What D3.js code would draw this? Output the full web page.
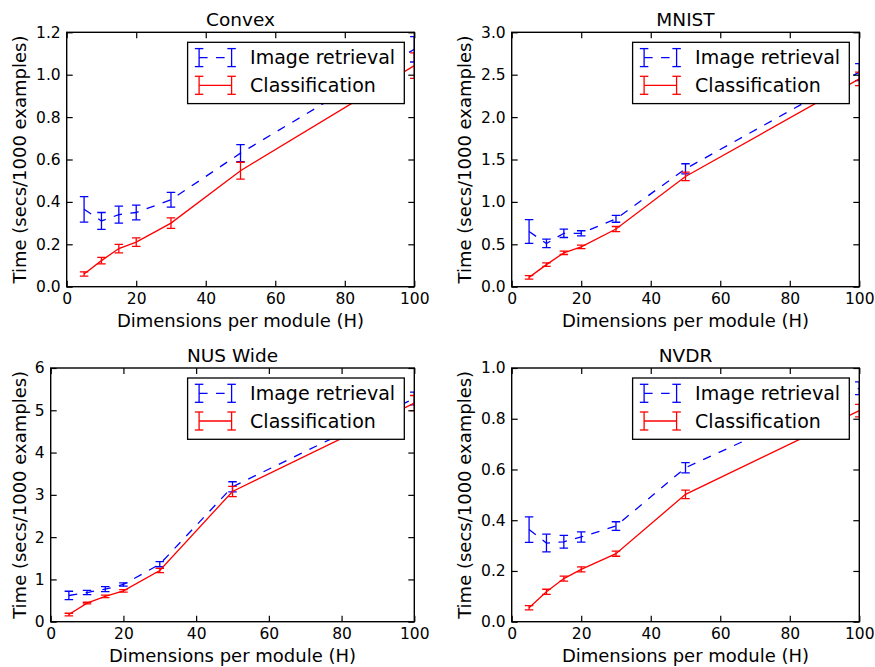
<!DOCTYPE html>
<html lang="en">
<head>
    <meta charset="UTF-8">
    <title>Time per module size</title>
    <script src="https://d3js.org/d3.v7.min.js"></script>
    <style>
        body {
            margin: 0;
            background: #ffffff;
            font-family: "DejaVu Sans", sans-serif;
        }
        .tick text { font-size: 15.5px; fill: #000; font-family: "DejaVu Sans", sans-serif; }
        .tick line { stroke: #000; stroke-width: 1.2; }
        .domain { display: none; }
        .title { font-size: 18.5px; fill: #000; }
        .label { font-size: 18px; fill: #000; }
        .legend-text { font-size: 19px; fill: #000; }
    </style>
</head>
<body>
    <div id="chart"></div>
    <script>
        // x values (dimensions per module)
        const dims = [5, 10, 15, 20, 30, 50, 100];

        // panel titles and y axes
        const titles = ["Convex", "MNIST", "NUS Wide", "NVDR"];
        const yMax = [1.2, 3.0, 6, 1.0];
        const yStep = [0.2, 0.5, 1, 0.2];
        const yFormat = [".1f", ".1f", "d", ".1f"];

        // Image retrieval (blue, dashed)
        const convexRet = [0.365, 0.31, 0.34, 0.35, 0.41, 0.63, 1.12];
        const convexRetErr = [0.06, 0.04, 0.04, 0.035, 0.035, 0.04, 0.06];
        const mnistRet = [0.65, 0.51, 0.63, 0.63, 0.80, 1.39, 2.53];
        const mnistRetErr = [0.14, 0.05, 0.05, 0.03, 0.04, 0.06, 0.1];
        const nusRet = [0.62, 0.69, 0.77, 0.88, 1.36, 3.19, 5.28];
        const nusRetErr = [0.1, 0.05, 0.06, 0.04, 0.06, 0.12, 0.15];
        const nvdrRet = [0.363, 0.31, 0.315, 0.334, 0.377, 0.607, 0.92];
        const nvdrRetErr = [0.05, 0.035, 0.025, 0.02, 0.017, 0.02, 0.025];

        // Classification (red, solid)
        const convexCls = [0.06, 0.123, 0.18, 0.21, 0.30, 0.547, 1.043];
        const convexClsErr = [0.01, 0.015, 0.02, 0.02, 0.025, 0.04, 0.06];
        const mnistCls = [0.11, 0.26, 0.40, 0.47, 0.68, 1.30, 2.45];
        const mnistClsErr = [0.02, 0.02, 0.02, 0.02, 0.03, 0.05, 0.08];
        const nusCls = [0.17, 0.44, 0.60, 0.73, 1.21, 3.08, 5.17];
        const nusClsErr = [0.03, 0.02, 0.03, 0.03, 0.05, 0.12, 0.18];
        const nvdrCls = [0.055, 0.118, 0.17, 0.206, 0.268, 0.502, 0.832];
        const nvdrClsErr = [0.008, 0.01, 0.01, 0.01, 0.01, 0.017, 0.025];

        const retrieval = [convexRet, mnistRet, nusRet, nvdrRet];
        const retrievalErr = [convexRetErr, mnistRetErr, nusRetErr, nvdrRetErr];
        const classification = [convexCls, mnistCls, nusCls, nvdrCls];
        const classificationErr = [convexClsErr, mnistClsErr, nusClsErr, nvdrClsErr];

        // axes boxes in page pixels
        const boxes = [
            { left: 66.7, right: 414.3, top: 32.3, bottom: 286.7 },
            { left: 511.7, right: 859.3, top: 32.3, bottom: 286.7 },
            { left: 50.7, right: 414.3, top: 368, bottom: 621.7 },
            { left: 511.7, right: 859.3, top: 368, bottom: 621.7 }
        ];
        const yLabelX = [20, 465, 20, 465];

        const svg = d3.select("#chart")
            .append("svg")
            .attr("width", 875)
            .attr("height", 667);

        const capHalf = 4.25;
        const lineW = 1.3;
        const dash = "8.5,8.5";

        function drawSeries(g, x, y, vals, errs, color, dashed) {
            const pts = dims.map((d, i) => ({ x: d, v: vals[i], e: errs[i] }));
            g.append("path")
                .datum(pts)
                .attr("fill", "none")
                .attr("stroke", color)
                .attr("stroke-width", lineW)
                .attr("stroke-dasharray", dashed ? dash : null)
                .attr("d", d3.line().x(d => x(d.x)).y(d => y(d.v)));

            const bars = g.selectAll(null).data(pts).enter().append("g");
            bars.append("line")
                .attr("x1", d => x(d.x)).attr("x2", d => x(d.x))
                .attr("y1", d => y(d.v - d.e)).attr("y2", d => y(d.v + d.e))
                .attr("stroke", color).attr("stroke-width", lineW);
            [-1, 1].forEach(s => {
                bars.append("line")
                    .attr("x1", d => x(d.x) - capHalf).attr("x2", d => x(d.x) + capHalf)
                    .attr("y1", d => y(d.v + s * d.e)).attr("y2", d => y(d.v + s * d.e))
                    .attr("stroke", color).attr("stroke-width", lineW);
            });
        }

        boxes.forEach((b, p) => {
            const w = b.right - b.left;
            const h = b.bottom - b.top;
            const g = svg.append("g").attr("transform", `translate(${b.left},${b.top})`);

            const x = d3.scaleLinear().domain([0, 100]).range([0, w]);
            const y = d3.scaleLinear().domain([0, yMax[p]]).range([h, 0]);
            const yTicks = d3.range(0, yMax[p] + yStep[p] / 2, yStep[p]);
            const xTicks = [0, 20, 40, 60, 80, 100];

            // clipped data
            g.append("clipPath").attr("id", "clip" + p)
                .append("rect").attr("width", w).attr("height", h);
            const plot = g.append("g").attr("clip-path", `url(#clip${p})`);
            drawSeries(plot, x, y, retrieval[p], retrievalErr[p], "#0000ff", true);
            drawSeries(plot, x, y, classification[p], classificationErr[p], "#ff0000", false);

            // axes with inward ticks
            g.append("g").attr("transform", `translate(0,${h})`)
                .call(d3.axisBottom(x).tickValues(xTicks).tickSizeInner(-6).tickSizeOuter(0).tickPadding(6));
            g.append("g")
                .call(d3.axisTop(x).tickValues(xTicks).tickSizeInner(-6).tickSizeOuter(0).tickFormat(""));
            g.append("g")
                .call(d3.axisLeft(y).tickValues(yTicks).tickSizeInner(-6).tickSizeOuter(0).tickPadding(6)
                    .tickFormat(d3.format(yFormat[p])));
            g.append("g").attr("transform", `translate(${w},0)`)
                .call(d3.axisRight(y).tickValues(yTicks).tickSizeInner(-6).tickSizeOuter(0).tickFormat(""));

            // legend
            const lw = 216.7, lh = 61.3;
            const lg = g.append("g").attr("transform", `translate(${w - 10 - lw},10)`);
            lg.append("rect").attr("width", lw).attr("height", lh)
                .attr("fill", "#fff").attr("stroke", "#000").attr("stroke-width", 1.3);
            const entries = [
                { name: "Image retrieval", color: "#0000ff", dashed: true, cy: 15.3 },
                { name: "Classification", color: "#ff0000", dashed: false, cy: 43 }
            ];
            entries.forEach(en => {
                const x0 = 11.5, x1 = 44;
                lg.append("line").attr("x1", x0).attr("x2", x1).attr("y1", en.cy).attr("y2", en.cy)
                    .attr("stroke", en.color).attr("stroke-width", lineW)
                    .attr("stroke-dasharray", en.dashed ? dash : null);
                [x0, x1].forEach(xx => {
                    lg.append("line").attr("x1", xx).attr("x2", xx).attr("y1", en.cy - 9).attr("y2", en.cy + 9)
                        .attr("stroke", en.color).attr("stroke-width", lineW);
                    [-9, 9].forEach(dy => {
                        lg.append("line").attr("x1", xx - capHalf).attr("x2", xx + capHalf)
                            .attr("y1", en.cy + dy).attr("y2", en.cy + dy)
                            .attr("stroke", en.color).attr("stroke-width", lineW);
                    });
                });
                lg.append("text").attr("class", "legend-text")
                    .attr("x", 62.5).attr("y", en.cy).attr("dy", "0.35em")
                    .text(en.name);
            });

            // frame
            g.append("rect").attr("width", w).attr("height", h)
                .attr("fill", "none").attr("stroke", "#000").attr("stroke-width", 1.4);

            // title and labels
            g.append("text").attr("class", "title")
                .attr("x", w / 2).attr("y", -6)
                .attr("text-anchor", "middle")
                .text(titles[p]);
            g.append("text").attr("class", "label")
                .attr("x", w / 2).attr("y", h + 40)
                .attr("text-anchor", "middle")
                .text("Dimensions per module (H)");
            svg.append("text").attr("class", "label")
                .attr("transform", `translate(${yLabelX[p]},${(b.top + b.bottom) / 2}) rotate(-90)`)
                .attr("text-anchor", "middle")
                .attr("dy", "0.35em")
                .text("Time (secs/1000 examples)");
        });
    </script>
</body>
</html>
